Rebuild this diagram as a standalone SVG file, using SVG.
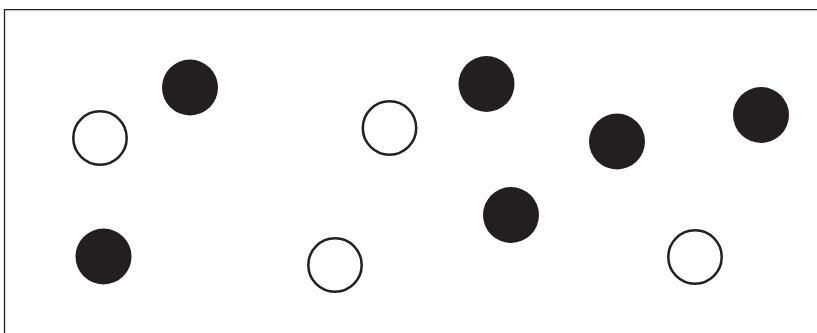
<svg xmlns="http://www.w3.org/2000/svg" width="817" height="333" viewBox="0 0 817 333">
<style>
.frame{fill:none;stroke:#231f20;stroke-width:1.3}
.full{fill:#231f20}
.open{fill:#fff;stroke:#231f20;stroke-width:2.5}
</style>
<rect width="817" height="333" fill="#fff"/>
<g id="frame"><path class="frame" d="M4.5,333 V9.7 H817"/></g>
<g id="connectors"></g>
<g id="open1"><circle class="open" cx="100" cy="138" r="26.7"/></g>
<g id="full1"><circle class="full" cx="190" cy="87.5" r="28"/></g>
<g id="open2"><circle class="open" cx="389.5" cy="128" r="26.7"/></g>
<g id="full2"><circle class="full" cx="486.5" cy="84" r="28"/></g>
<g id="full3"><circle class="full" cx="617" cy="141.5" r="28"/></g>
<g id="full4"><circle class="full" cx="761" cy="115" r="28"/></g>
<g id="full5"><circle class="full" cx="103.5" cy="256.5" r="28"/></g>
<g id="open3"><circle class="open" cx="335" cy="265" r="26.7"/></g>
<g id="full6"><circle class="full" cx="511" cy="215" r="28"/></g>
<g id="open4"><circle class="open" cx="695" cy="257" r="26.7"/></g>
</svg>
